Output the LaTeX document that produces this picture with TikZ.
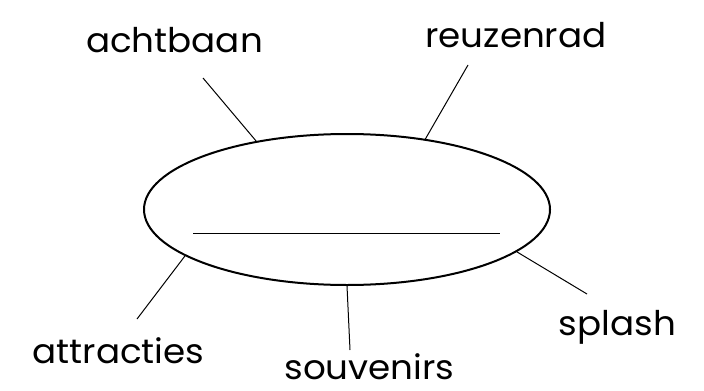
\documentclass[tikz,border=0pt]{standalone}
\usepackage{fontspec}
\setmainfont{Poppins}[FakeStretch=1.05]
\usepackage{tikz}
\usetikzlibrary{shapes.geometric,positioning}

\begin{document}
\begin{tikzpicture}[
    x=0.5pt, y=-0.5pt,
    font=\fontsize{17}{20}\selectfont,
    park/.style={ellipse, draw=black, line width=1pt, minimum width=203pt, minimum height=75.5pt, inner sep=0pt},
    label/.style={anchor=base, inner sep=0pt},
    spoke/.style={draw=black, line width=0.5pt}
]
    \useasboundingbox (0,0) rectangle (704,390);

    \node[park] (park) at (347,209.5) {};
    \coordinate (lineL) at (193,233);
    \coordinate (lineR) at (500,233);
    \draw[spoke] (lineL) -- (lineR);

    \node[label] (achtbaan) at (174.5,53) {achtbaan};
    \node[label] (reuzenrad) at (516,47) {reuzenrad};
    \node[label] (attracties) at (118.5,363) {attracties};
    \node[label] (souvenirs) at (369.5,379) {souvenirs};
    \node[label] (splash) at (617.5,335) {splash};

    \coordinate (endA) at (203,78);
    \coordinate (endR) at (468,65);
    \coordinate (endT) at (137,319);
    \coordinate (endS) at (350,350);
    \coordinate (endP) at (587,294);

    \draw[spoke] (park.143) -- (endA);
    \draw[spoke] (park.42) -- (endR);
    \draw[spoke] (park.196) -- (endT);
    \draw[spoke] (park.270) -- (endS);
    \draw[spoke] (park.346) -- (endP);
\end{tikzpicture}
\end{document}
